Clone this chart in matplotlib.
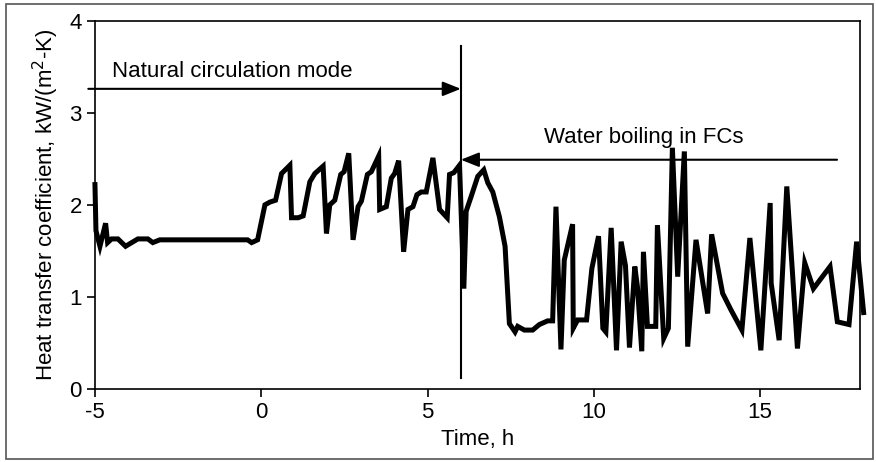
import matplotlib.pyplot as plt
from matplotlib.patches import Rectangle

plt.rcParams['font.family'] = ['Liberation Sans', 'DejaVu Sans']
plt.rcParams['axes.unicode_minus'] = False

# Heat transfer coefficient vs time (h), kW/(m2-K)
time_h = [
    -5.00, -4.97, -4.85, -4.68, -4.62, -4.50, -4.31, -4.08, -3.71, -3.41,
    -3.26, -3.05, -0.41, -0.29, -0.11, 0.11, 0.26, 0.43, 0.61, 0.86,
    0.91, 1.11, 1.26, 1.46, 1.61, 1.86, 1.96, 2.06, 2.21, 2.39,
    2.49, 2.63, 2.76, 2.91, 3.01, 3.19, 3.31, 3.53, 3.56, 3.76,
    3.91, 4.01, 4.13, 4.28, 4.41, 4.56, 4.68, 4.81, 4.96, 5.16,
    5.36, 5.59, 5.66, 5.79, 5.96, 6.09, 6.16, 6.31, 6.51, 6.69,
    6.81, 6.96, 7.16, 7.33, 7.46, 7.63, 7.71, 7.91, 8.16, 8.36,
    8.61, 8.76, 8.86, 9.01, 9.11, 9.36, 9.38, 9.51, 9.78, 9.94,
    10.14, 10.27, 10.36, 10.52, 10.68, 10.82, 10.95, 11.07, 11.23, 11.31,
    11.44, 11.49, 11.61, 11.86, 11.91, 12.10, 12.24, 12.36, 12.52, 12.72,
    12.82, 13.07, 13.42, 13.54, 13.87, 14.12, 14.45, 14.69, 15.02, 15.30,
    15.33, 15.57, 15.80, 16.12, 16.34, 16.60, 17.10, 17.32, 17.67, 17.90,
    18.11,
]
htc = [
    2.22, 1.72, 1.55, 1.80, 1.59, 1.63, 1.63, 1.55, 1.63, 1.63,
    1.59, 1.62, 1.62, 1.59, 1.62, 2.00, 2.03, 2.05, 2.34, 2.43,
    1.86, 1.86, 1.88, 2.25, 2.34, 2.42, 1.69, 2.00, 2.05, 2.33,
    2.36, 2.56, 1.62, 1.98, 2.04, 2.33, 2.36, 2.53, 1.95, 1.98,
    2.29, 2.34, 2.48, 1.49, 1.95, 1.98, 2.11, 2.14, 2.14, 2.51,
    1.95, 1.86, 2.33, 2.35, 2.43, 1.09, 1.93, 2.09, 2.31, 2.38,
    2.24, 2.14, 1.87, 1.55, 0.71, 0.62, 0.68, 0.64, 0.64, 0.70,
    0.74, 0.74, 1.98, 0.43, 1.40, 1.79, 0.66, 0.75, 0.75, 1.31,
    1.66, 0.66, 0.62, 1.75, 0.42, 1.60, 1.34, 0.45, 1.33, 1.11,
    0.41, 1.49, 0.68, 0.68, 1.78, 0.55, 0.66, 2.62, 1.22, 2.58,
    0.46, 1.62, 0.82, 1.68, 1.04, 0.86, 0.64, 1.64, 0.42, 2.02,
    1.15, 0.53, 2.20, 0.44, 1.37, 1.09, 1.33, 0.73, 0.70, 1.60,
    0.83,
]

x_ticks = [-5, 0, 5, 10, 15]
y_ticks = [0, 1, 2, 3, 4]
switch_time = 6.0

fig = plt.figure(figsize=(8.76, 4.62), dpi=100)
ax = fig.add_axes([0.1084, 0.158, 0.8733, 0.7972])

ax.plot(time_h, htc, color='black', lw=3.6, solid_joinstyle='miter', clip_on=False)

# mode boundary and annotations
ax.plot([switch_time, switch_time], [0.12, 3.73], color='black', lw=1.5)
head = '-|>,head_length=0.55,head_width=0.22'
arrow = dict(arrowstyle=head, color='black', lw=1.5, shrinkA=0, shrinkB=0,
             mutation_scale=20)
ax.annotate('', xy=(switch_time, 3.26), xytext=(-5.2, 3.26),
            arrowprops=arrow, annotation_clip=False)
ax.annotate('', xy=(switch_time, 2.49), xytext=(17.31, 2.49), arrowprops=arrow)
ax.text(-4.49, 3.45, 'Natural circulation mode', fontsize=16, va='center', ha='left')
ax.text(8.51, 2.73, 'Water boiling in FCs', fontsize=16, va='center', ha='left')

ax.set_xlim(-5, 18)
ax.set_ylim(0, 4)
ax.set_xticks(x_ticks)
ax.set_yticks(y_ticks)
ax.tick_params(direction='out', length=6, width=1.2, labelsize=16, colors='black')
for sp in ax.spines.values():
    sp.set_linewidth(1.2)

ax.set_xlabel('Time, h', fontsize=16, labelpad=4)
ax.set_ylabel('Heat transfer coefficient, kW/(m$^2$-K)', fontsize=16, labelpad=6)

# outer frame
fig.patches.append(Rectangle((0.007, 0.006), 0.990, 0.985, transform=fig.transFigure,
                             fill=False, edgecolor='#555555', lw=1.2))

fig.savefig('out.png', dpi=100)
